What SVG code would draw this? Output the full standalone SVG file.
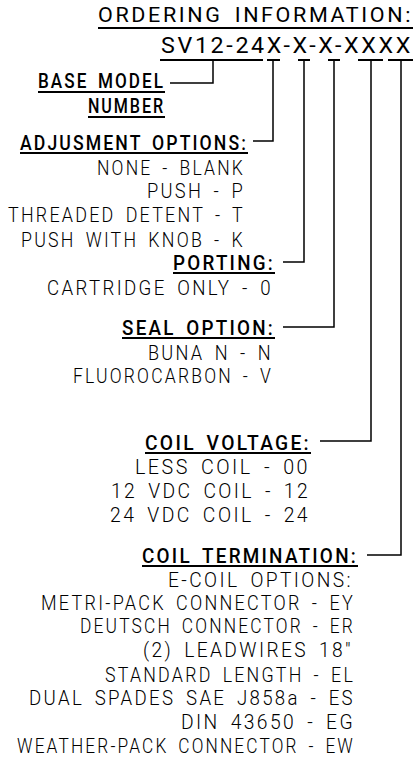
<svg xmlns="http://www.w3.org/2000/svg" width="420" height="760" viewBox="0 0 420 760">
<style>
text{font-family:Roboto,"DejaVu Sans Condensed","Liberation Sans",sans-serif;fill:#000;font-size:20px;font-weight:300;letter-spacing:2.5px;word-spacing:4px}
.h{font-weight:500;font-size:21px}
.t{font-weight:400;font-size:20.5px}
.m{font-weight:400;font-size:22px}
.u{stroke:#000;stroke-width:2;fill:none}
.c{stroke:#000;stroke-width:1.5;fill:none}
</style>
<rect width="420" height="760" fill="#fff"/>
<g id="title">
<text class="t" x="98" y="22" textLength="315" lengthAdjust="spacingAndGlyphs">ORDERING INFORMATION:</text>
<line class="u" x1="98" y1="28" x2="413" y2="28"/>
</g>
<g id="model-code">
<text class="m" x="161" y="53" textLength="252" lengthAdjust="spacingAndGlyphs">SV12-24X-X-X-XXXX</text>
<path class="u" d="M160 60H263M267 60H280M298 60H310M328 60H340M358 60H383M388 60H413"/>
</g>
<g id="base-model">
<text class="h" x="38" y="88" textLength="127" lengthAdjust="spacingAndGlyphs">BASE MODEL</text>
<line class="u" x1="38" y1="92" x2="165" y2="92"/>
<text class="h" x="88" y="113" textLength="77" lengthAdjust="spacingAndGlyphs">NUMBER</text>
<line class="u" x1="88" y1="117" x2="165" y2="117"/>
</g>
<g id="adjustment-options">
<text class="h" x="20" y="150" textLength="228" lengthAdjust="spacingAndGlyphs">ADJUSMENT OPTIONS:</text>
<line class="u" x1="20" y1="153" x2="248" y2="153"/>
<text x="97" y="175" textLength="148" lengthAdjust="spacingAndGlyphs">NONE - BLANK</text>
<text x="147" y="198" textLength="98" lengthAdjust="spacingAndGlyphs">PUSH - P</text>
<text x="8" y="222" textLength="237" lengthAdjust="spacingAndGlyphs">THREADED DETENT - T</text>
<text x="21" y="247" textLength="224" lengthAdjust="spacingAndGlyphs">PUSH WITH KNOB - K</text>
</g>
<g id="porting">
<text class="h" x="173" y="270" textLength="102" lengthAdjust="spacingAndGlyphs">PORTING:</text>
<line class="u" x1="173" y1="273" x2="275" y2="273"/>
<text x="47" y="295" textLength="226" lengthAdjust="spacingAndGlyphs">CARTRIDGE ONLY - 0</text>
</g>
<g id="seal-option">
<text class="h" x="122" y="335" textLength="153" lengthAdjust="spacingAndGlyphs">SEAL OPTION:</text>
<line class="u" x1="122" y1="338" x2="275" y2="338"/>
<text x="148" y="360" textLength="125" lengthAdjust="spacingAndGlyphs">BUNA N - N</text>
<text x="73" y="383" textLength="200" lengthAdjust="spacingAndGlyphs">FLUOROCARBON - V</text>
</g>
<g id="coil-voltage">
<text class="h" x="145" y="450" textLength="166" lengthAdjust="spacingAndGlyphs">COIL VOLTAGE:</text>
<line class="u" x1="145" y1="453" x2="311" y2="453"/>
<text x="135" y="474" textLength="175" lengthAdjust="spacingAndGlyphs">LESS COIL - 00</text>
<text x="111" y="498" textLength="199" lengthAdjust="spacingAndGlyphs">12 VDC COIL - 12</text>
<text x="110" y="522" textLength="200" lengthAdjust="spacingAndGlyphs">24 VDC COIL - 24</text>
</g>
<g id="coil-termination">
<text class="h" x="142" y="563" textLength="216" lengthAdjust="spacingAndGlyphs">COIL TERMINATION:</text>
<line class="u" x1="142" y1="566" x2="358" y2="566"/>
<text x="168" y="587" textLength="185" lengthAdjust="spacingAndGlyphs">E-COIL OPTIONS:</text>
<text x="41" y="610" textLength="314" lengthAdjust="spacingAndGlyphs">METRI-PACK CONNECTOR - EY</text>
<text x="80" y="633" textLength="275" lengthAdjust="spacingAndGlyphs">DEUTSCH CONNECTOR - ER</text>
<text x="143" y="657" textLength="210" lengthAdjust="spacingAndGlyphs">(2) LEADWIRES 18"</text>
<text x="105" y="682" textLength="250" lengthAdjust="spacingAndGlyphs">STANDARD LENGTH - EL</text>
<text x="29" y="705" textLength="326" lengthAdjust="spacingAndGlyphs">DUAL SPADES SAE J858a - ES</text>
<text x="181" y="729" textLength="174" lengthAdjust="spacingAndGlyphs">DIN 43650 - EG</text>
<text x="17" y="753" textLength="338" lengthAdjust="spacingAndGlyphs">WEATHER-PACK CONNECTOR - EW</text>
</g>
<g id="connectors">
<path class="c" d="M213 60V83H170"/>
<path class="c" d="M273 60V141H253"/>
<path class="c" d="M304 60V262H283"/>
<path class="c" d="M334 60V327H283"/>
<path class="c" d="M371 60V441H320"/>
<path class="c" d="M401 60V555H367"/>
</g>
</svg>
